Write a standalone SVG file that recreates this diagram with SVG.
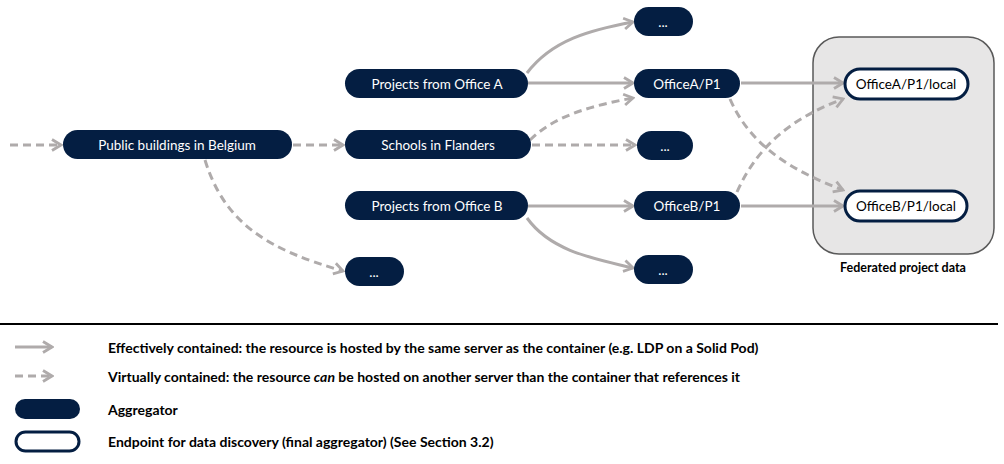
<svg xmlns="http://www.w3.org/2000/svg" width="1004" height="464" viewBox="0 0 1004 464">
<defs>
<marker id="ah" viewBox="0 0 14 14" refX="12" refY="7" markerWidth="14" markerHeight="14" markerUnits="userSpaceOnUse" orient="auto">
<path d="M3,1.5 L12,7 L3,12.5" fill="none" stroke="#AFABAB" stroke-width="2.8"/>
</marker>
</defs>
<style>
.agg{fill:#041E42;}
.end{fill:#FFFFFF;stroke:#041E42;stroke-width:3;}
.lbl{font-family:Lato,"Open Sans",sans-serif;font-size:13.5px;fill:#FFFFFF;text-anchor:middle;dominant-baseline:central;}
.lbl2{font-family:Lato,"Open Sans",sans-serif;font-size:13.5px;fill:#000000;text-anchor:middle;dominant-baseline:central;}
.leg{font-family:Lato,"Open Sans",sans-serif;font-size:14px;font-weight:bold;fill:#000000;dominant-baseline:central;}
.e{fill:none;stroke:#AFABAB;stroke-width:3;marker-end:url(#ah);}
.v{fill:none;stroke:#AFABAB;stroke-width:3;stroke-dasharray:8,5;marker-end:url(#ah);}
</style>
<rect width="1004" height="464" fill="#FFFFFF"/>
<g id="group-federated">
<rect x="813" y="37" width="181" height="217" rx="26" fill="#E7E6E6" stroke="#595959" stroke-width="1.5"/>
<text x="903" y="267" class="leg" text-anchor="middle" style="font-size:12.5px">Federated project data</text>
</g>
<g id="connectors">
<path class="v" d="M10,145 L61,145"/>
<path class="v" d="M293,145 L343,145"/>
<path class="v" d="M205,160 C225,225 270,250 343,271"/>
<path class="e" d="M528,83 L633,83"/>
<path class="e" d="M527,73 C552,40 590,30 633,22"/>
<path class="v" d="M530,140 C555,115 595,105 633,98"/>
<path class="v" d="M532,145 L635,145"/>
<path class="e" d="M528,206 L633,206"/>
<path class="e" d="M527,218 C550,250 590,258 633,268"/>
<path class="e" d="M741,83 L843,83"/>
<path class="e" d="M741,206 L843,206"/>
<path class="v" d="M730,99 C750,145 790,170 843,190"/>
<path class="v" d="M737,192 C760,140 800,115 843,99"/>
</g>
<g id="n-public"><rect class="agg" x="63" y="130" width="229" height="29" rx="14.5"/><text class="lbl" x="177" y="145">Public buildings in Belgium</text></g>
<g id="n-projA"><rect class="agg" x="345" y="69" width="183" height="29" rx="14.5"/><text class="lbl" x="437" y="84">Projects from Office A</text></g>
<g id="n-schools"><rect class="agg" x="345" y="130" width="186" height="29" rx="14.5"/><text class="lbl" x="438" y="145">Schools in Flanders</text></g>
<g id="n-projB"><rect class="agg" x="345" y="191" width="183" height="29" rx="14.5"/><text class="lbl" x="437" y="206">Projects from Office B</text></g>
<g id="n-etc1"><rect class="agg" x="345" y="257" width="59" height="29" rx="14.5"/><text class="lbl" x="374" y="272">...</text></g>
<g id="n-etc2"><rect class="agg" x="634" y="7" width="59" height="29" rx="14.5"/><text class="lbl" x="663" y="22">...</text></g>
<g id="n-officeA"><rect class="agg" x="634" y="69" width="106" height="29" rx="14.5"/><text class="lbl" x="687" y="84">OfficeA/P1</text></g>
<g id="n-etc3"><rect class="agg" x="637" y="131" width="56" height="29" rx="14.5"/><text class="lbl" x="665" y="146">...</text></g>
<g id="n-officeB"><rect class="agg" x="634" y="191" width="106" height="29" rx="14.5"/><text class="lbl" x="687" y="206">OfficeB/P1</text></g>
<g id="n-etc4"><rect class="agg" x="634" y="255" width="59" height="29" rx="14.5"/><text class="lbl" x="663" y="270">...</text></g>
<g id="n-localA"><rect class="end" x="845" y="69" width="123" height="30" rx="15"/><text class="lbl2" x="906" y="84">OfficeA/P1/local</text></g>
<g id="n-localB"><rect class="end" x="845" y="191" width="122" height="30" rx="15"/><text class="lbl2" x="906" y="206">OfficeB/P1/local</text></g>
<g id="legend">
<line x1="0" y1="324" x2="998" y2="324" stroke="#000000" stroke-width="2"/>
<path class="e" d="M15,347 L52,347"/>
<path class="v" d="M15,376 L52,376"/>
<rect class="agg" x="15" y="399" width="65" height="20" rx="10"/>
<rect class="end" x="16" y="432" width="63" height="19" rx="9.5"/>
<text class="leg" x="108" y="347">Effectively contained: the resource is hosted by the same server as the container (e.g. LDP on a Solid Pod)</text>
<text class="leg" x="108" y="376">Virtually contained: the resource <tspan font-style="italic">can</tspan> be hosted on another server than the container that references it</text>
<text class="leg" x="108" y="409">Aggregator</text>
<text class="leg" x="108" y="441">Endpoint for data discovery (final aggregator) (See Section 3.2)</text>
</g>
</svg>
